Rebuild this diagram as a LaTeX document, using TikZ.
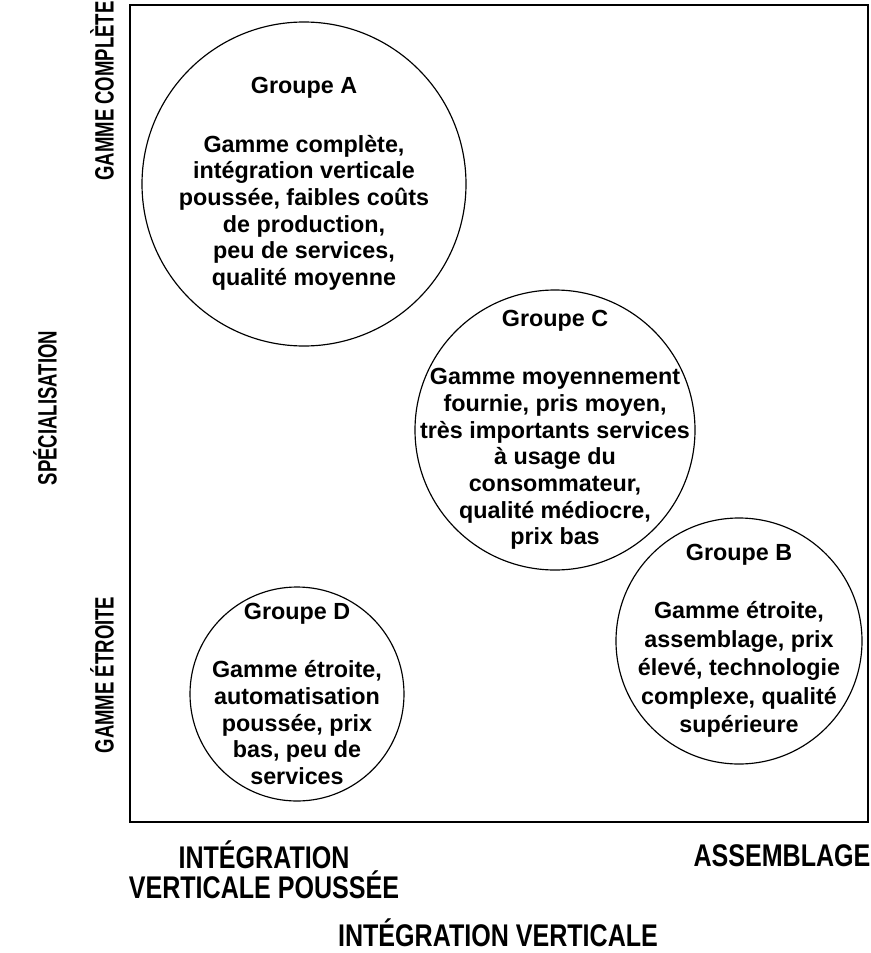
\documentclass[tikz,border=0pt]{standalone}
\usepackage{fontspec}
\setmainfont{Liberation Sans}
\newfontfamily\axisfont[FakeStretch=0.8]{Liberation Sans}
\newfontfamily\sidefont[FakeStretch=0.7]{Liberation Sans}
\usetikzlibrary{positioning}

\begin{document}
\begin{tikzpicture}[
  x=0.6pt,y=-0.6pt,
  grp/.style={draw, circle, line width=0.7pt, inner sep=0pt},
  body/.style={align=center, font=\bfseries\fontsize{14}{16}\selectfont},
  frame/.style={draw, line width=1.3pt, inner sep=0pt},
  axis/.style={inner sep=0pt, font=\axisfont\bfseries\fontsize{18.8}{16.2}\selectfont},
  side/.style={rotate=90, inner sep=0pt, font=\sidefont\bfseries\fontsize{15.9}{16}\selectfont}
]
\useasboundingbox (0,0) rectangle (871,953);

% the plot area
\node[frame, minimum width=442.8pt, minimum height=490.2pt] (plot) at (499,413.5) {};

% the four groups
\node[grp, minimum size=194.4pt] (grpA) at (304,184) {};
\node[body] (txtA) at (grpA.center) {Groupe A\\[19pt]Gamme complète,\\intégration verticale\\poussée, faibles coûts\\de production,\\peu de services,\\qualité moyenne};

\node[grp, minimum size=168pt] (grpC) at (555,430) {};
\node[body] (txtC) at (grpC.center) {Groupe C\\[19pt]Gamme moyennement\\fournie, pris moyen,\\très importants services\\à usage du\\consommateur,\\qualité médiocre,\\prix bas};

\node[grp, minimum size=147.6pt] (grpB) at (739,641) {};
\node[body, font=\bfseries\fontsize{14}{17.1}\selectfont] (txtB) at (grpB.center) {Groupe B\\[17.7pt]Gamme étroite,\\assemblage, prix\\élevé, technologie\\complexe, qualité\\supérieure};

\node[grp, minimum size=128.4pt] (grpD) at (297,694) {};
\node[body] (txtD) at (grpD.center) {Groupe D\\[19pt]Gamme étroite,\\automatisation\\poussée, prix\\bas, peu de\\services};

% axes
\node[side] (full) at (102,91) {GAMME COMPLÈTE};
\node[side] (narrow) at (102,675) {GAMME ÉTROITE};
\node[side] (spec) at (45,408) {SPÉCIALISATION};

\node[axis, align=center] (integ) at (264,870) {INTÉGRATION\\VERTICALE POUSSÉE};
\node[axis, anchor=base] (assem) at (782,866) {ASSEMBLAGE};
\node[axis, anchor=base] (xaxis) at (498,946) {INTÉGRATION VERTICALE};
\end{tikzpicture}
\end{document}
